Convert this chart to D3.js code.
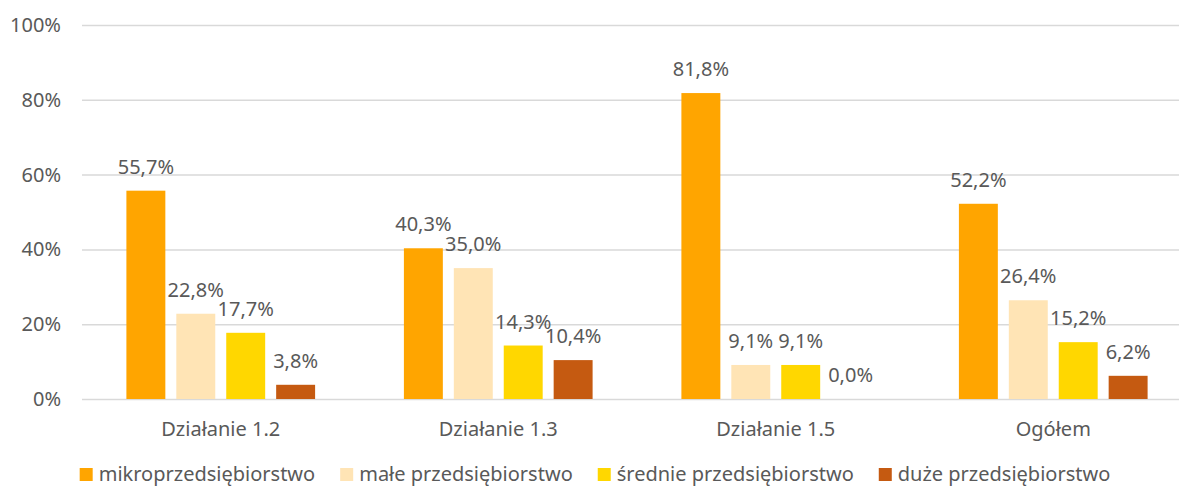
<!DOCTYPE html>
<html>
<head>
<meta charset="utf-8">
<script src="https://cdn.jsdelivr.net/npm/d3@7"></script>
<style>
  body { margin: 0; background: #fff; }
  svg text { font-family: "Noto Sans", sans-serif; fill: #595959; }
</style>
</head>
<body>
<div id="chart"></div>
<script>
// data
const categories = ['Działanie 1.2', 'Działanie 1.3', 'Działanie 1.5', 'Ogółem'];
const seriesNames = ['mikroprzedsiębiorstwo', 'małe przedsiębiorstwo', 'średnie przedsiębiorstwo', 'duże przedsiębiorstwo'];
const mikro = [55.7, 40.3, 81.8, 52.2];
const male = [22.8, 35.0, 9.1, 26.4];
const srednie = [17.7, 14.3, 9.1, 15.2];
const duze = [3.8, 10.4, 0.0, 6.2];
const yTicks = [0, 20, 40, 60, 80, 100];
const colors = ['#FFA500', '#FFE4B5', '#FFD700', '#C55A11'];

const seriesValues = [mikro, male, srednie, duze];
const rows = categories.map((c, i) => ({
  cat: c,
  values: seriesNames.map((s, j) => ({ key: s, idx: j, value: seriesValues[j][i] })),
}));

const width = 1179;
const height = 486;
const margin = ({ top: 25, right: -13, bottom: 87, left: 82 });
const fontSize = '20px';

const svg = d3.select('#chart')
  .append('svg')
  .attr('width', width)
  .attr('height', height);

const x0 = d3.scaleBand()
  .domain(categories)
  .range([margin.left, width - margin.right])
  .paddingInner(0.32)
  .paddingOuter(0.16);

const x1 = d3.scaleBand()
  .domain(seriesNames)
  .range([0, x0.bandwidth()])
  .paddingInner(0.22);

const y = d3.scaleLinear()
  .domain([0, 100])
  .range([height - margin.bottom, margin.top]);

const fmt = (v) => d3.format('.1f')(v).replace('.', ',') + '%';

// grid + y axis labels
const yAxis = d3.axisLeft(y)
  .tickValues(yTicks)
  .tickFormat((d) => d + '%')
  .tickSize(-(width - margin.left))
  .tickPadding(21);

svg.append('g')
  .attr('transform', `translate(${margin.left},0)`)
  .call(yAxis)
  .call((g) => g.select('.domain').remove())
  .call((g) => g.selectAll('.tick line').attr('stroke', '#D9D9D9').attr('stroke-width', 1.5))
  .call((g) => g.selectAll('.tick text')
    .style('font-size', fontSize)
    .attr('fill', '#595959'));

// bars
const groups = svg.append('g')
  .selectAll('g')
  .data(rows)
  .join('g')
  .attr('transform', (d) => `translate(${x0(d.cat)},0)`);

groups.selectAll('rect')
  .data((d) => d.values)
  .join('rect')
  .attr('x', (d) => x1(d.key))
  .attr('y', (d) => y(d.value))
  .attr('width', x1.bandwidth())
  .attr('height', (d) => y(0) - y(d.value))
  .attr('fill', (d) => colors[d.idx]);

groups.selectAll('text')
  .data((d) => d.values)
  .join('text')
  .attr('x', (d) => x1(d.key) + x1.bandwidth() / 2)
  .attr('y', (d) => y(d.value) - 17)
  .attr('text-anchor', 'middle')
  .style('font-size', fontSize)
  .text((d) => fmt(d.value));

// category labels
const xAxis = d3.axisBottom(x0).tickSize(0).tickPadding(23);
svg.append('g')
  .attr('transform', `translate(0,${y(0)})`)
  .call(xAxis)
  .call((g) => g.select('.domain').remove())
  .call((g) => g.selectAll('.tick text')
    .style('font-size', fontSize)
    .attr('fill', '#595959'));

// legend
const legend = svg.append('g');
const items = legend.selectAll('g')
  .data(seriesNames)
  .join('g');
items.append('rect')
  .attr('width', 13)
  .attr('height', 13)
  .attr('y', -6)
  .attr('fill', (d, i) => colors[i]);
items.append('text')
  .attr('x', 19)
  .attr('dy', '0.35em')
  .style('font-size', fontSize)
  .text((d) => d);

let pos = 0;
items.each(function() {
  d3.select(this).attr('transform', `translate(${pos},0)`);
  pos += 19 + d3.select(this).select('text').node().getComputedTextLength() + 25;
});
const total = pos - 25;
legend.attr('transform', `translate(${595 - total / 2},${474})`);
</script>
</body>
</html>
